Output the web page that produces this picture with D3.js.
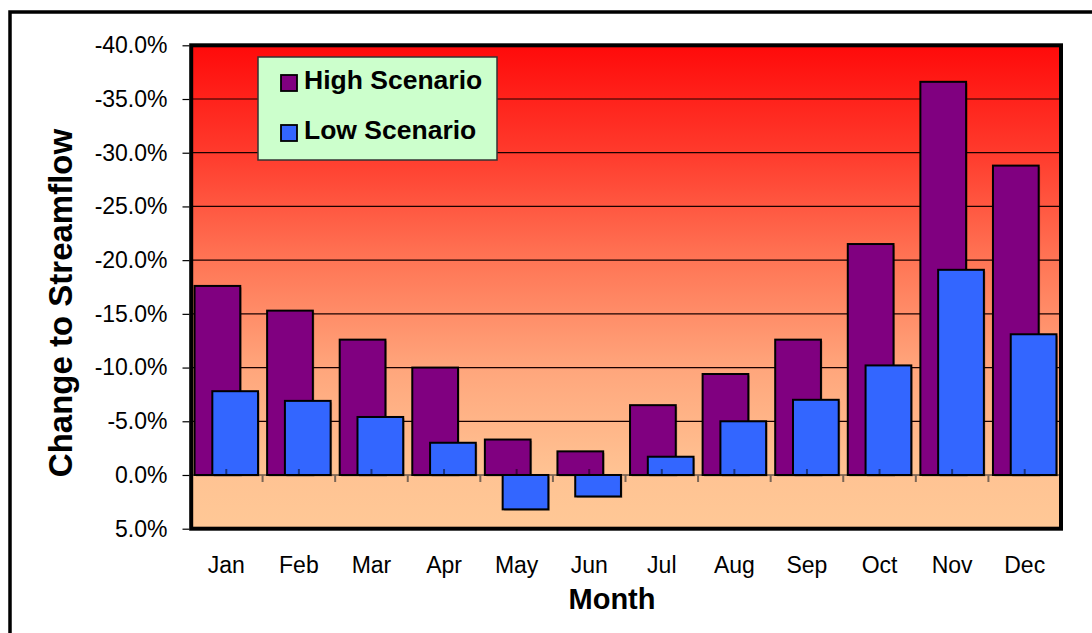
<!DOCTYPE html>
<html>
<head>
<meta charset="utf-8">
<script src="https://cdn.jsdelivr.net/npm/d3@7"></script>
<style>
  html, body { margin: 0; padding: 0; background: #fff; }
  svg { display: block; font-family: "Liberation Sans", Arial, sans-serif; }
</style>
</head>
<body>
<svg id="chart" width="1092" height="633"></svg>
<script>
// Monthly change to streamflow (%), negative values = reduction (plotted upward)
const months = ["Jan", "Feb", "Mar", "Apr", "May", "Jun", "Jul", "Aug", "Sep", "Oct", "Nov", "Dec"];
const highScenario = [-17.6, -15.3, -12.6, -10.0, -3.3, -2.2, -6.5, -9.4, -12.6, -21.5, -36.6, -28.8];
const lowScenario  = [-7.8, -6.9, -5.4, -3.0, 3.2, 2.0, -1.7, -5.0, -7.0, -10.2, -19.1, -13.1];
const yTicks = [-40, -35, -30, -25, -20, -15, -10, -5, 0, 5];
const seriesNames = ["High Scenario", "Low Scenario"];
const seriesColors = ["#800080", "#3366FF"];

const svg = d3.select("#chart");
const plot = { left: 190, right: 1061, top: 45.3, bottom: 528.7 };

const x = d3.scaleBand().domain(months).range([plot.left, plot.right]).padding(0);
const y = d3.scaleLinear().domain([-40, 5]).range([plot.top, plot.bottom]);

// outer chart frame
svg.append("rect")
  .attr("x", 10).attr("y", 12).attr("width", 1100).attr("height", 650)
  .attr("fill", "#fff").attr("stroke", "#000").attr("stroke-width", 3.5);

// plot background gradient
const defs = svg.append("defs");
const grad = defs.append("linearGradient")
  .attr("id", "plotBg").attr("x1", 0).attr("y1", 0).attr("x2", 0).attr("y2", 1);
[[0, "#FF0A0A"], [0.22, "#FF3A2C"], [0.45, "#FF7656"], [0.67, "#FFA67C"], [0.885, "#FFC393"], [1, "#FFC896"]]
  .forEach(([o, c]) => grad.append("stop").attr("offset", o).attr("stop-color", c));

svg.append("rect")
  .attr("x", plot.left).attr("y", plot.top)
  .attr("width", plot.right - plot.left).attr("height", plot.bottom - plot.top)
  .attr("fill", "url(#plotBg)");

// horizontal gridlines
svg.append("g").selectAll("line")
  .data(yTicks.filter(t => t > -40 && t < 0))
  .join("line")
  .attr("x1", plot.left).attr("x2", plot.right)
  .attr("y1", d => y(d)).attr("y2", d => y(d))
  .attr("stroke", "#1a0000").attr("stroke-width", 1.2);

// category axis line at zero
svg.append("line")
  .attr("x1", plot.left).attr("x2", plot.right)
  .attr("y1", y(0)).attr("y2", y(0))
  .attr("stroke", "#222").attr("stroke-width", 1.2);

// overlapping bar layout inside each band
const bw = x.bandwidth();
const barW = bw * 0.63;
const barOffset = bw * 0.245;
const barPad = (bw - barW - barOffset) / 2;

[highScenario, lowScenario].forEach((vals, si) => {
  const g = svg.append("g");
  const data = months.map((m, i) => ({ m, v: vals[i] }));
  const bx = d => x(d.m) + barPad + si * barOffset;
  const by = d => Math.min(y(0), y(d.v));
  const bh = d => Math.abs(y(d.v) - y(0));
  // soft shadow
  g.selectAll("rect.shadow").data(data).join("rect")
    .attr("class", "shadow")
    .attr("x", d => bx(d) + 1.5).attr("y", d => by(d) + 1.5)
    .attr("width", barW).attr("height", bh)
    .attr("fill", "#000").attr("opacity", 0.25);
  g.selectAll("rect.bar").data(data).join("rect")
    .attr("class", "bar")
    .attr("x", bx).attr("y", by)
    .attr("width", barW).attr("height", bh)
    .attr("fill", seriesColors[si])
    .attr("stroke", "#000").attr("stroke-width", 2);
});

// category center tick marks (upward) and boundary tick marks (downward)
svg.append("g").selectAll("line")
  .data(months).join("line")
  .attr("x1", d => x(d) + bw / 2).attr("x2", d => x(d) + bw / 2)
  .attr("y1", y(0) - 6).attr("y2", y(0))
  .attr("stroke", "#000").attr("stroke-opacity", 0.5).attr("stroke-width", 2);
svg.append("g").selectAll("line")
  .data(months.slice(1)).join("line")
  .attr("x1", d => x(d)).attr("x2", d => x(d))
  .attr("y1", y(0)).attr("y2", y(0) + 7)
  .attr("stroke", "#7a6555").attr("stroke-width", 2);

// plot frame
svg.append("rect")
  .attr("x", plot.left + 1.2).attr("y", plot.top)
  .attr("width", plot.right - plot.left - 1.2).attr("height", plot.bottom - plot.top)
  .attr("fill", "none").attr("stroke", "#000").attr("stroke-width", 4);

// y axis
const yAxis = svg.append("g")
  .attr("transform", `translate(${plot.left - 0.5},0)`)
  .call(d3.axisLeft(y).tickValues(yTicks).tickSize(7).tickPadding(15)
    .tickFormat(d => d.toFixed(1) + "%"));
yAxis.select(".domain").remove();
yAxis.selectAll(".tick line").attr("stroke", "#000").attr("stroke-width", 1.2);
yAxis.selectAll(".tick text")
  .attr("font-family", "'Liberation Sans', Arial, sans-serif")
  .attr("font-size", 23).attr("fill", "#000");

// x axis labels
const xAxis = svg.append("g")
  .attr("transform", `translate(0,${plot.bottom})`)
  .call(d3.axisBottom(x).tickSize(0).tickPadding(28));
xAxis.select(".domain").remove();
xAxis.selectAll(".tick text")
  .attr("font-family", "'Liberation Sans', Arial, sans-serif")
  .attr("font-size", 23).attr("fill", "#000");

// axis titles
svg.append("text")
  .attr("x", 612).attr("y", 609)
  .attr("text-anchor", "middle")
  .attr("font-size", 29).attr("font-weight", "bold")
  .text("Month");

svg.append("text")
  .attr("transform", "translate(72,303) rotate(-90)")
  .attr("text-anchor", "middle")
  .attr("font-size", 33).attr("font-weight", "bold")
  .text("Change to Streamflow");

// legend
const legend = svg.append("g");
legend.append("rect")
  .attr("x", 258).attr("y", 57).attr("width", 239).attr("height", 103)
  .attr("fill", "#CCFFCC").attr("stroke", "#333").attr("stroke-width", 1.5);
seriesNames.forEach((name, i) => {
  const yy = 75 + i * 50;
  legend.append("rect")
    .attr("x", 281).attr("y", yy).attr("width", 16).attr("height", 16)
    .attr("fill", seriesColors[i]).attr("stroke", "#000").attr("stroke-width", 1.8);
  legend.append("text")
    .attr("x", 304).attr("y", yy + 13.5)
    .attr("font-size", 26.5).attr("font-weight", "bold")
    .text(name);
});
</script>
</body>
</html>
